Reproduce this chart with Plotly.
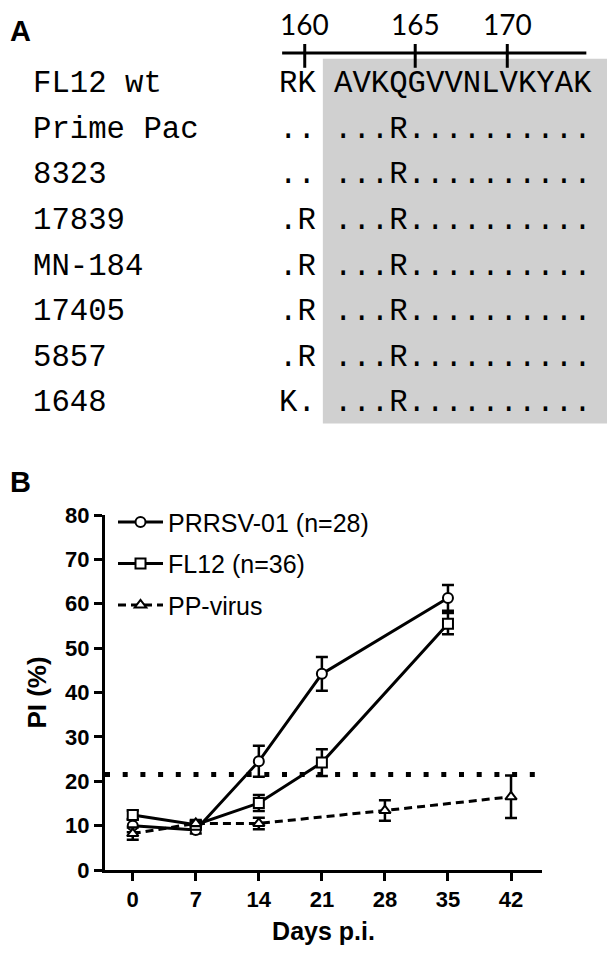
import plotly.graph_objects as go

# ---------------- Panel A data ----------------
ruler_ticks = [160, 165, 170]
ruler_tick_index = [1, 7, 12]          # character index in the sequence string
strain_names = ["FL12 wt", "Prime Pac", "8323", "17839", "MN-184", "17405", "5857", "1648"]
prefix_seq = ["RK", "..", "..", ".R", ".R", ".R", ".R", "K."]
core_seq = ["AVKQGVVNLVKYAK", "...R..........", "...R..........", "...R..........",
            "...R..........", "...R..........", "...R..........", "...R.........."]

# ---------------- Panel B data ----------------
days_prrsv = [0, 7, 14, 21, 35]
pi_prrsv = [10.0, 9.0, 24.5, 44.2, 61.3]
err_prrsv = [1.5, 0.8, 3.5, 3.8, 2.9]

days_fl12 = [0, 7, 14, 21, 35]
pi_fl12 = [12.4, 10.2, 15.1, 24.2, 55.5]
err_fl12 = [1.0, 0.8, 1.8, 3.0, 2.4]

days_pp = [0, 7, 14, 28, 42]
pi_pp = [8.2, 10.5, 10.5, 13.4, 16.5]
err_pp = [1.4, 0.6, 1.3, 2.3, 4.8]

threshold = 21.5
x_ticks = [0, 7, 14, 21, 28, 35, 42]
y_ticks = [0, 10, 20, 30, 40, 50, 60, 70, 80]

# ---------------- geometry helpers (screen pixel -> paper) ----------------
OFF = 8                      # default body margin of the html page
W, H = 615 - OFF, 954 - OFF
PX_L, PX_R, PX_T, PX_B = 105, 541.7, 515, 873   # plot area on screen


def px(x):
    return (x - PX_L) / (PX_R - PX_L)


def py(y):
    return (PX_B - y) / (PX_B - PX_T)


SANS = "Liberation Sans, Arial, sans-serif"
MONO = "Courier New, Liberation Mono, monospace"

fig = go.Figure()


def add_series(x, y, e, name, symbol, dash, group):
    fig.add_trace(go.Scatter(
        x=x, y=y, name=name, mode="lines+markers",
        legendgroup=group,
        line=dict(color="black", width=3, dash=dash),
        marker=dict(symbol=symbol, size=10, color="white",
                    line=dict(color="black", width=2)),
        error_y=dict(type="data", array=e, visible=True, color="black",
                     thickness=2.5, width=6),
    ))


add_series(days_prrsv, pi_prrsv, err_prrsv, "PRRSV-01 (n=28)", "circle", "solid", "a")
add_series(days_fl12, pi_fl12, err_fl12, "FL12 (n=36)", "square", "solid", "b")
add_series(days_pp, pi_pp, err_pp, "PP-virus", "triangle-up", "8px,5px", "c")

shapes = []
annotations = []

# threshold dotted line
shapes.append(dict(type="line", xref="paper", yref="y", x0=0, x1=1.003,
                   y0=threshold, y1=threshold,
                   line=dict(color="black", width=5, dash="5px,12.7px")))

# ---------------- Panel A drawing ----------------
cw = 18.4           # char width (px)
fs_mono = cw / 0.6
seq_left = 277
core_left = seq_left + 3 * cw
row_y0, row_pitch = 80, 46.0

shapes.append(dict(type="rect", xref="paper", yref="paper", layer="below",
                   x0=px(322.7), x1=px(606.7), y0=py(55), y1=py(422.7),
                   fillcolor="#d0d0d0", line=dict(width=0)))
# ruler
shapes.append(dict(type="line", xref="paper", yref="paper",
                   x0=px(282), x1=px(586), y0=py(49), y1=py(49),
                   line=dict(color="black", width=3)))
for t, idx in zip(ruler_ticks, ruler_tick_index):
    cx = seq_left + (idx + 0.5) * cw
    shapes.append(dict(type="line", xref="paper", yref="paper",
                       x0=px(cx), x1=px(cx), y0=py(40), y1=py(64),
                       line=dict(color="black", width=3)))
    annotations.append(dict(xref="paper", yref="paper", x=px(cx), y=py(20),
                            text=str(t), showarrow=False, xanchor="center",
                            yanchor="middle",
                            font=dict(family="Lato, Open Sans, sans-serif", size=28,
                                      color="black")))

for i, (nm, pre, core) in enumerate(zip(strain_names, prefix_seq, core_seq)):
    yc = row_y0 + i * row_pitch
    for xx, txt in ((31, nm), (seq_left, pre), (core_left, core)):
        annotations.append(dict(xref="paper", yref="paper", x=px(xx), y=py(yc),
                                text=txt, showarrow=False, xanchor="left",
                                yanchor="middle",
                                font=dict(family=MONO, size=fs_mono, color="black")))

# panel letters
for letter, yc in (("A", 27), ("B", 482)):
    annotations.append(dict(xref="paper", yref="paper", x=px(8), y=py(yc),
                            text="<b>%s</b>" % letter, showarrow=False,
                            xanchor="left", yanchor="middle",
                            font=dict(family=SANS, size=29, color="black")))

fig.update_layout(
    width=W, height=H, autosize=False,
    margin=dict(l=PX_L - OFF, r=615 - PX_R, t=PX_T - OFF, b=954 - PX_B, pad=0),
    paper_bgcolor="white", plot_bgcolor="white",
    font=dict(family=SANS, color="black"),
    shapes=shapes, annotations=annotations,
    showlegend=True,
    legend=dict(x=px(113), y=py(499), xanchor="left", yanchor="top",
                bgcolor="rgba(0,0,0,0)", borderwidth=0,
                font=dict(family=SANS, size=25, color="black"),
                traceorder="grouped", tracegroupgap=6, itemwidth=45),
    xaxis=dict(range=[-3.08, 45.44], tickmode="array", tickvals=x_ticks,
               ticktext=["<b>%d</b>" % v for v in x_ticks],
               showline=True, linecolor="black", linewidth=3,
               ticks="outside", ticklen=8, tickwidth=3, tickcolor="black",
               showgrid=False, zeroline=False,
               tickfont=dict(family=SANS, size=22, color="black"),
               title=dict(text="<b>Days p.i.</b>", standoff=12,
                          font=dict(family=SANS, size=25, color="black"))),
    yaxis=dict(range=[0, 80], tickmode="array", tickvals=y_ticks,
               ticktext=["<b>%d</b>" % v for v in y_ticks],
               showline=True, linecolor="black", linewidth=3,
               ticks="outside", ticklen=8, tickwidth=3, tickcolor="black",
               showgrid=False, zeroline=False,
               tickfont=dict(family=SANS, size=22, color="black"),
               title=dict(text="<b>PI (%)</b>", standoff=12,
                          font=dict(family=SANS, size=26, color="black"))),
)

fig.write_html("out.html")
